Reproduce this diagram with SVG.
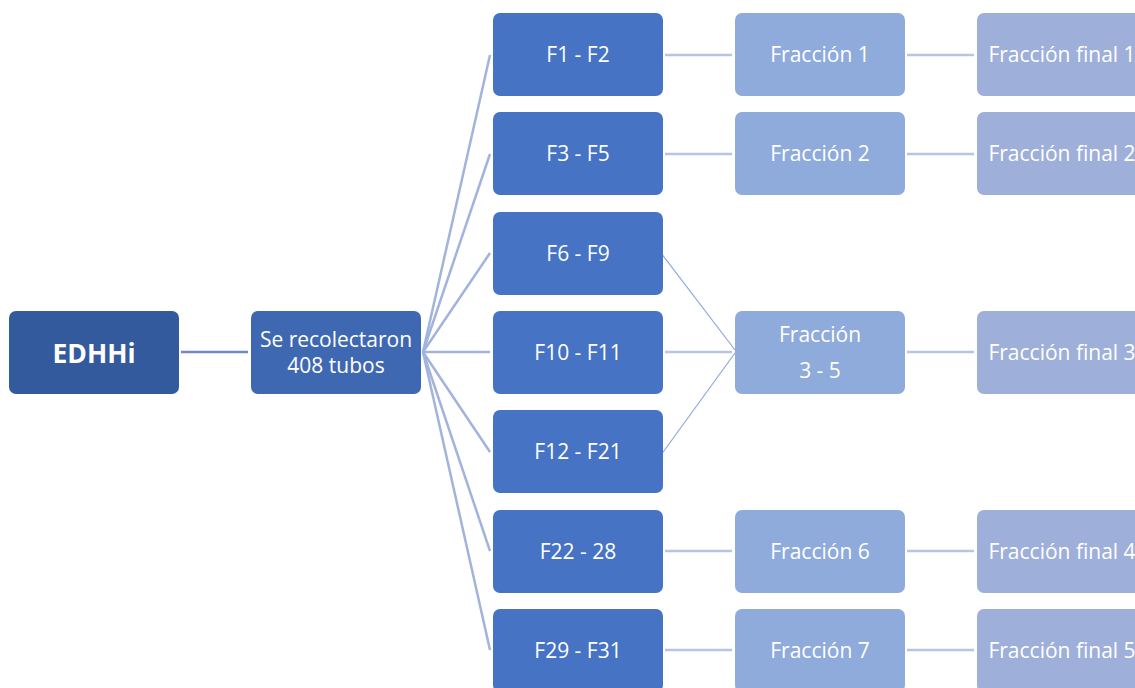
<svg xmlns="http://www.w3.org/2000/svg" width="1135" height="688" viewBox="0 0 1135 688">
  <style>
    .box { stroke: none; }
    .root { fill: #345A9E; }
    .mid { fill: #3F68B2; }
    .f { fill: #4673C4; }
    .fr { fill: #8FABDC; }
    .fin { fill: #9EAFD9; }
    text { font-family: "Open Sans", "Liberation Sans", Arial, sans-serif; fill: #ffffff; text-anchor: middle; font-size: 21px; }
    .bold { font-weight: bold; font-size: 26.5px; }
    .c0 { stroke: #7389C9; stroke-width: 2.5; fill: none; }
    .c1 { stroke: #A2B3DD; stroke-width: 2.5; fill: none; }
    .c2 { stroke: #B6C4E5; stroke-width: 2.5; fill: none; }
    .c3 { stroke: #8EA8DB; stroke-width: 1.2; fill: none; }
  </style>
  <rect width="1135" height="688" fill="#ffffff"/>

  <g id="connectors">
    <line class="c0" x1="181" y1="352" x2="248" y2="352"/>
    <line class="c1" x1="423" y1="352" x2="490" y2="55"/>
    <line class="c1" x1="423" y1="352" x2="490" y2="154"/>
    <line class="c1" x1="423" y1="352" x2="490" y2="253"/>
    <line class="c1" x1="423" y1="352" x2="490" y2="352"/>
    <line class="c1" x1="423" y1="352" x2="490" y2="452"/>
    <line class="c1" x1="423" y1="352" x2="490" y2="551"/>
    <line class="c1" x1="423" y1="352" x2="490" y2="650"/>
    <line class="c2" x1="665" y1="55" x2="732" y2="55"/>
    <line class="c2" x1="665" y1="154" x2="732" y2="154"/>
    <line class="c3" x1="661" y1="253" x2="735" y2="350"/>
    <line class="c2" x1="665" y1="352" x2="732" y2="352"/>
    <line class="c3" x1="661" y1="455" x2="735" y2="353"/>
    <line class="c2" x1="665" y1="551" x2="732" y2="551"/>
    <line class="c2" x1="665" y1="650" x2="732" y2="650"/>
    <line class="c2" x1="907" y1="55" x2="974" y2="55"/>
    <line class="c2" x1="907" y1="154" x2="974" y2="154"/>
    <line class="c2" x1="907" y1="352" x2="974" y2="352"/>
    <line class="c2" x1="907" y1="551" x2="974" y2="551"/>
    <line class="c2" x1="907" y1="650" x2="974" y2="650"/>
  </g>

  <g id="edhhi">
    <rect class="box root" x="9" y="311" width="170" height="83" rx="7"/>
    <text class="bold" x="94" y="363">EDHHi</text>
  </g>
  <g id="recolectaron">
    <rect class="box mid" x="251" y="311" width="170" height="83" rx="7"/>
    <text x="336" y="347">Se recolectaron</text>
    <text x="336" y="373">408 tubos</text>
  </g>

  <g id="f1-f2"><rect class="box f" x="493" y="13" width="170" height="83" rx="7"/><text x="578" y="62">F1 - F2</text></g>
  <g id="f3-f5"><rect class="box f" x="493" y="112" width="170" height="83" rx="7"/><text x="578" y="161">F3 - F5</text></g>
  <g id="f6-f9"><rect class="box f" x="493" y="212" width="170" height="83" rx="7"/><text x="578" y="261">F6 - F9</text></g>
  <g id="f10-f11"><rect class="box f" x="493" y="311" width="170" height="83" rx="7"/><text x="578" y="360">F10 - F11</text></g>
  <g id="f12-f21"><rect class="box f" x="493" y="410" width="170" height="83" rx="7"/><text x="578" y="459">F12 - F21</text></g>
  <g id="f22-28"><rect class="box f" x="493" y="510" width="170" height="83" rx="7"/><text x="578" y="559">F22 - 28</text></g>
  <g id="f29-f31"><rect class="box f" x="493" y="609" width="170" height="83" rx="7"/><text x="578" y="658">F29 - F31</text></g>

  <g id="fraccion-1"><rect class="box fr" x="735" y="13" width="170" height="83" rx="7"/><text x="820" y="62">Fracción 1</text></g>
  <g id="fraccion-2"><rect class="box fr" x="735" y="112" width="170" height="83" rx="7"/><text x="820" y="161">Fracción 2</text></g>
  <g id="fraccion-3-5"><rect class="box fr" x="735" y="311" width="170" height="83" rx="7"/><text x="820" y="342">Fracción</text><text x="820" y="378">3 - 5</text></g>
  <g id="fraccion-6"><rect class="box fr" x="735" y="510" width="170" height="83" rx="7"/><text x="820" y="559">Fracción 6</text></g>
  <g id="fraccion-7"><rect class="box fr" x="735" y="609" width="170" height="83" rx="7"/><text x="820" y="658">Fracción 7</text></g>

  <g id="final-1"><rect class="box fin" x="977" y="13" width="170" height="83" rx="7"/><text x="1062" y="62">Fracción final 1</text></g>
  <g id="final-2"><rect class="box fin" x="977" y="112" width="170" height="83" rx="7"/><text x="1062" y="161">Fracción final 2</text></g>
  <g id="final-3"><rect class="box fin" x="977" y="311" width="170" height="83" rx="7"/><text x="1062" y="360">Fracción final 3</text></g>
  <g id="final-4"><rect class="box fin" x="977" y="510" width="170" height="83" rx="7"/><text x="1062" y="559">Fracción final 4</text></g>
  <g id="final-5"><rect class="box fin" x="977" y="609" width="170" height="83" rx="7"/><text x="1062" y="658">Fracción final 5</text></g>
</svg>
